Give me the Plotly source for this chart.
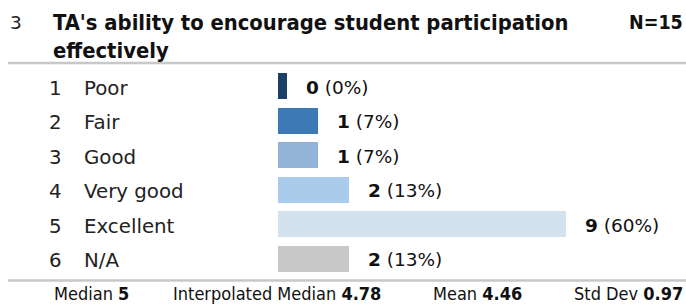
import plotly.graph_objects as go

# ---- data ----
numbers = [1, 2, 3, 4, 5, 6]
labels = ["Poor", "Fair", "Good", "Very good", "Excellent", "N/A"]
counts = [0, 1, 1, 2, 9, 2]
percents = [0, 7, 7, 13, 60, 13]
colors = ["#1c3f67", "#3d79b4", "#93b4d6", "#abcbeb", "#d4e2f0", "#c8c8c8"]
question_no = "3"
title_lines = ["TA's ability to encourage student participation", "effectively"]
n_total = 15
stat_names = ["Median", "Interpolated Median", "Mean", "Std Dev"]
stat_values = ["5", "4.78", "4.46", "0.97"]

# ---- layout constants ----
W, H = 686, 304
PX_PER = 31.0          # pixels per count
BAR_X0 = 278.0         # bar start in px
MIN_LEN = 9.0 / PX_PER # minimum bar length (in counts)
ROW_TOP, ROW_BOT = 69.0, 276.0
FONT = "DejaVu Sans"
FONT_C = "DejaVu Sans Condensed"
TXT = "#222222"

def px(x):
    return x / W

def py(y):
    return 1 - y / H

fig = go.Figure(go.Bar(
    y=labels,
    x=[c + MIN_LEN for c in counts],
    orientation="h",
    marker=dict(color=colors, line=dict(width=0)),
    width=0.755,
    hoverinfo="skip",
))

annotations = []
for num, lab, c, p in zip(numbers, labels, counts, percents):
    annotations.append(dict(x=px(47), y=lab, xref="paper", yref="y", text=str(num),
                            showarrow=False, xanchor="left", yanchor="middle", yshift=-2,
                            font=dict(family=FONT, size=19.8, color=TXT)))
    annotations.append(dict(x=px(82), y=lab, xref="paper", yref="y", text=lab,
                            showarrow=False, xanchor="left", yanchor="middle", yshift=-2,
                            font=dict(family=FONT, size=19.8, color=TXT)))
    annotations.append(dict(x=c + MIN_LEN, y=lab, xref="x", yref="y",
                            text=f"<b>{c}</b> ({p}%)", showarrow=False,
                            xanchor="left", yanchor="middle", xshift=17, yshift=-1,
                            font=dict(family=FONT, size=18.5, color="#111111")))

# header
annotations.append(dict(x=px(8), y=py(22), xref="paper", yref="paper", text=question_no,
                        showarrow=False, xanchor="left", yanchor="middle",
                        font=dict(family=FONT, size=18.5, color=TXT)))
annotations.append(dict(x=px(51), y=py(8), xref="paper", yref="paper",
                        text="<b>" + "<br>".join(title_lines) + "</b>",
                        showarrow=False, xanchor="left", yanchor="top", align="left",
                        font=dict(family=FONT_C, size=21.8, color="#111111")))
annotations.append(dict(x=px(685), y=py(22), xref="paper", yref="paper",
                        text=f"<b>N={n_total}</b>", showarrow=False,
                        xanchor="right", yanchor="middle",
                        font=dict(family=FONT_C, size=19.5, color="#111111")))

# stats footer
stat_x = [52, 171, 431, 572]
for sx, name, val in zip(stat_x, stat_names, stat_values):
    annotations.append(dict(x=px(sx), y=py(293), xref="paper", yref="paper",
                            text=f"{name} <b>{val}</b>", showarrow=False,
                            xanchor="left", yanchor="middle",
                            font=dict(family=FONT_C, size=18, color="#111111")))

shapes = [
    dict(type="line", xref="paper", yref="paper", x0=px(8), x1=1, y0=py(63), y1=py(63),
         line=dict(color="#c8c8c8", width=2.5)),
    dict(type="line", xref="paper", yref="paper", x0=px(8), x1=1, y0=py(280.5), y1=py(280.5),
         line=dict(color="#c8c8c8", width=2.5)),
]

fig.update_layout(
    width=W, height=H,
    margin=dict(l=0, r=0, t=0, b=0),
    paper_bgcolor="white", plot_bgcolor="white",
    showlegend=False,
    xaxis=dict(range=[-BAR_X0 / PX_PER, (W - BAR_X0) / PX_PER], domain=[0, 1],
               visible=False, fixedrange=True),
    yaxis=dict(categoryorder="array", categoryarray=labels, autorange=False,
               range=[len(labels) - 0.5, -0.5], domain=[py(ROW_BOT), py(ROW_TOP)],
               visible=False, fixedrange=True),
    annotations=annotations,
    shapes=shapes,
    bargap=0,
)

fig.write_html("out.html", config=dict(displayModeBar=False),
               post_script="document.body.style.margin='0';document.body.style.padding='0';document.body.style.overflow='hidden';")
